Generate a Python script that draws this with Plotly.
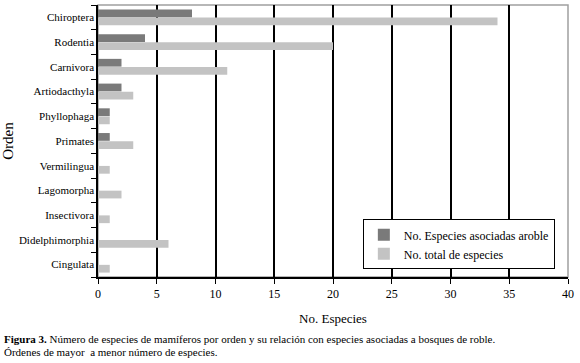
import plotly.graph_objects as go

orders = ["Chiroptera", "Rodentia", "Carnivora", "Artiodacthyla", "Phyllophaga", "Primates",
          "Vermilingua", "Lagomorpha", "Insectivora", "Didelphimorphia", "Cingulata"]
asociadas = [8, 4, 2, 2, 1, 1, 0, 0, 0, 0, 0]
total = [34, 20, 11, 3, 1, 3, 1, 2, 1, 6, 1]
x_ticks = [0, 5, 10, 15, 20, 25, 30, 35, 40]

FONT = "'Liberation Serif', 'Times New Roman', 'DejaVu Serif', serif"

fig = go.Figure()
fig.add_trace(go.Bar(y=orders, x=total, orientation="h", name="No. total de especies",
                     marker=dict(color="#c3c3c3", line=dict(width=0))))
fig.add_trace(go.Bar(y=orders, x=asociadas, orientation="h", name="No. Especies asociadas aroble",
                     marker=dict(color="#7a7a7a", line=dict(width=0))))

fig.update_layout(
    width=580, height=363,
    margin=dict(l=98, r=12, t=5, b=86),
    paper_bgcolor="white", plot_bgcolor="white",
    barmode="group", bargap=0.34, bargroupgap=0.05,
    font=dict(family=FONT, size=11, color="black"),
    showlegend=True,
    legend=dict(x=0.972, y=0.212, xanchor="right", yanchor="top", traceorder="reversed",
                bgcolor="white", bordercolor="black", borderwidth=1,
                font=dict(family=FONT, size=12), itemwidth=30, tracegroupgap=0),
    xaxis=dict(range=[0, 40], tickvals=x_ticks, showgrid=True, gridcolor="black", gridwidth=1.5,
               showline=True, linecolor="black", linewidth=1.5, ticks="outside", ticklen=5,
               tickcolor="black", zeroline=False, tickfont=dict(family=FONT, size=12),
               title=dict(text="No. Especies", font=dict(family=FONT, size=13), standoff=14)),
    yaxis=dict(categoryorder="array", categoryarray=orders[::-1], showline=True, linecolor="black",
               linewidth=1.5, ticks="outside", ticklen=5, tickcolor="black", tickson="boundaries",
               showgrid=False, tickfont=dict(family=FONT, size=11),
               title=dict(text="Orden", font=dict(family=FONT, size=15), standoff=4)),
    shapes=[dict(type="rect", xref="paper", yref="paper", x0=0, x1=1, y0=0, y1=1,
                 line=dict(color="#a0a0a0", width=1.5), layer="below")],
    annotations=[
        dict(xref="paper", yref="paper", x=-96/470, y=-62/272, xanchor="left", yanchor="middle",
             showarrow=False, align="left",
             text="<b>Figura 3.</b> Número de especies de mamíferos por orden y su relación con especies asociadas a bosques de roble.",
             font=dict(family=FONT, size=11)),
        dict(xref="paper", yref="paper", x=-96/470, y=-75/272, xanchor="left", yanchor="middle",
             showarrow=False, align="left",
             text="Órdenes de mayor  a menor número de especies.",
             font=dict(family=FONT, size=11)),
    ],
)

fig.write_html("out.html", config={"displayModeBar": False},
               post_script="document.body.style.margin='0px';")
